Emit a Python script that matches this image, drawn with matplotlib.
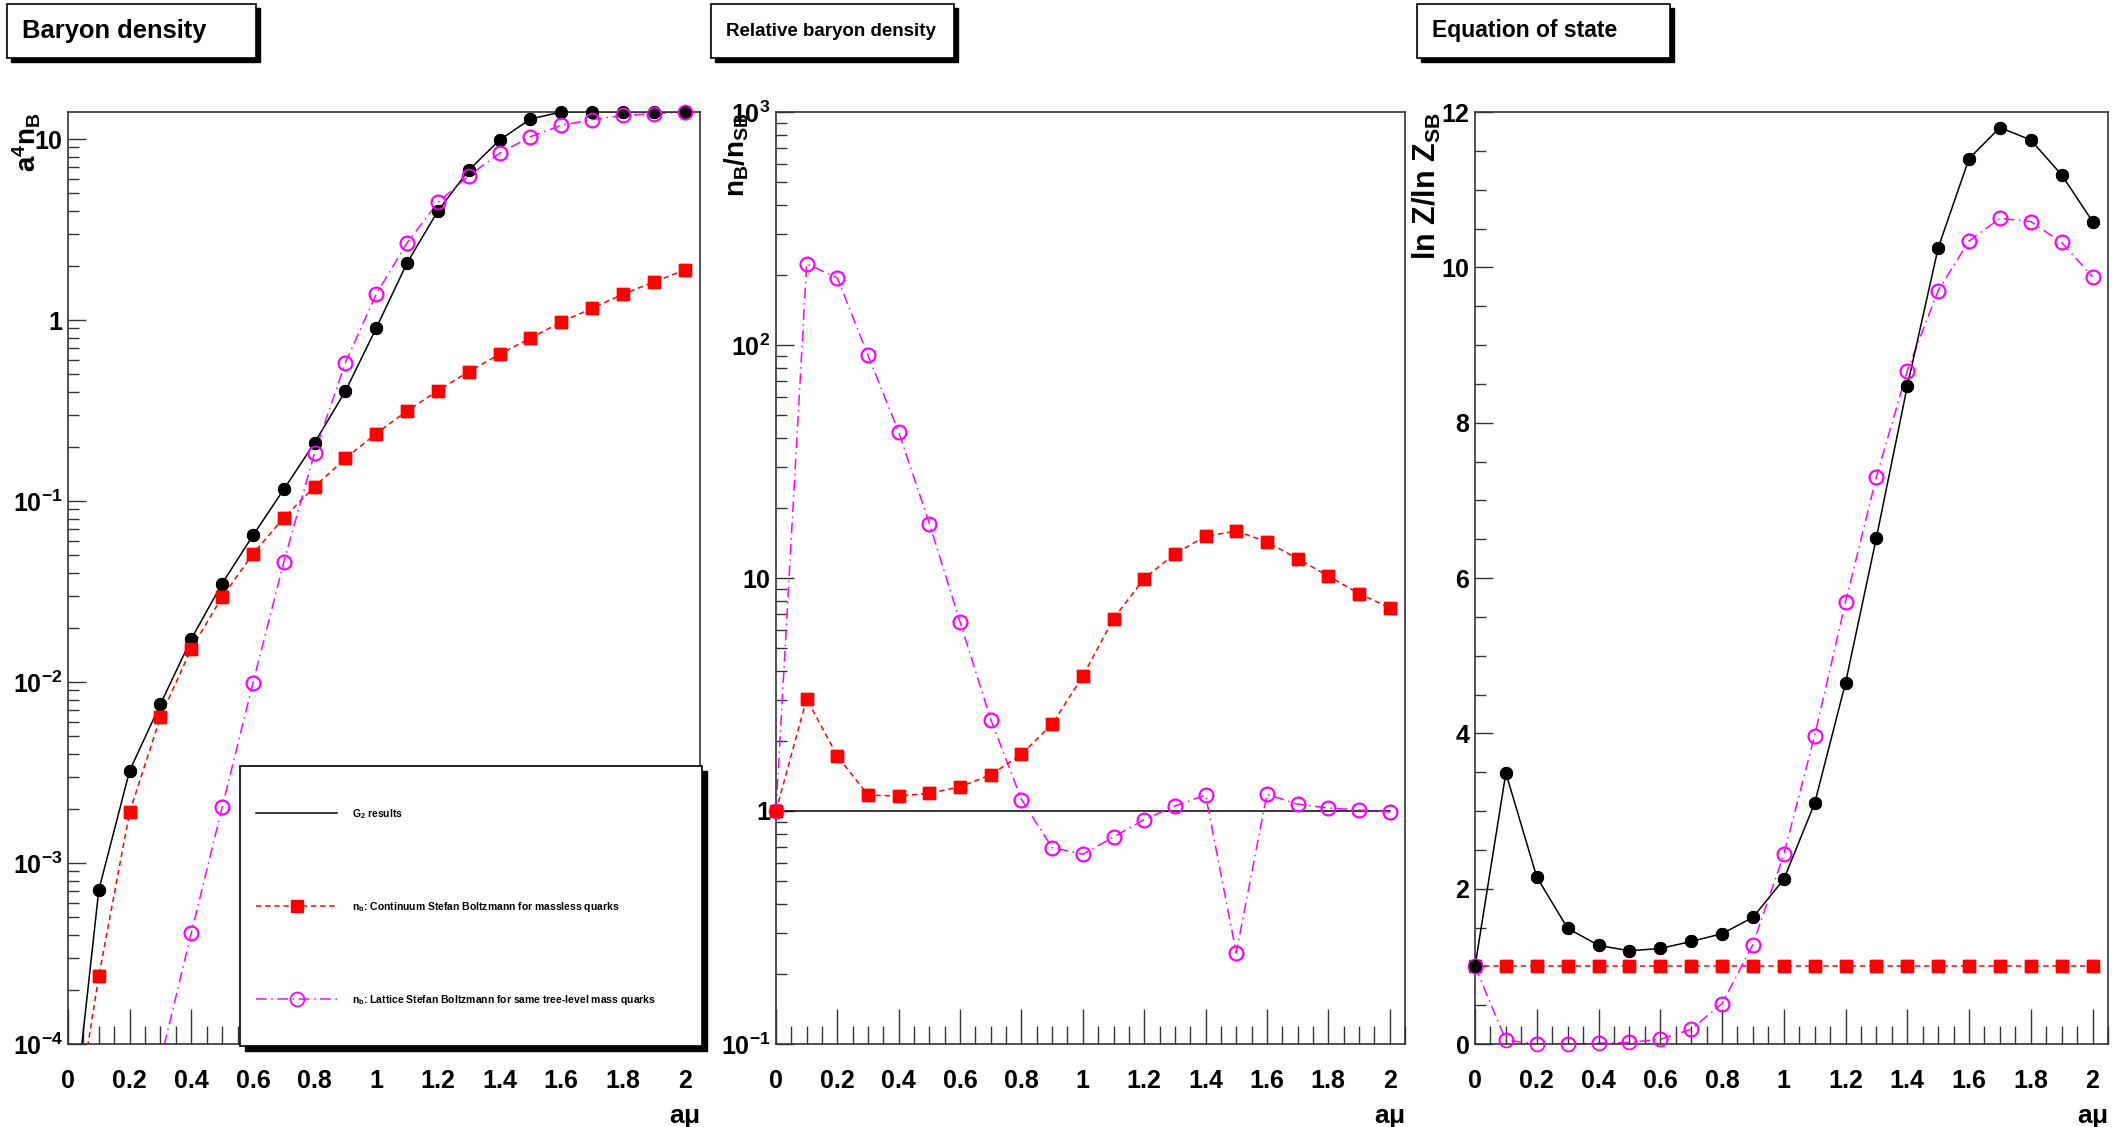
import matplotlib

matplotlib.use("Agg")
import matplotlib.pyplot as plt
import numpy as np
from matplotlib.patches import Rectangle
from matplotlib.ticker import FuncFormatter, LogLocator, MultipleLocator, NullFormatter

W, H = 2112, 1127

# a*mu grid
a_mu = [0.0, 0.1, 0.2, 0.3, 0.4, 0.5, 0.6, 0.7, 0.8, 0.9, 1.0,
        1.1, 1.2, 1.3, 1.4, 1.5, 1.6, 1.7, 1.8, 1.9, 2.0]

# panel 1: a^4 n_B
g2_nb = [2e-5, 7.1e-4, 3.24e-3, 7.55e-3, 0.0173, 0.0350, 0.0646, 0.116, 0.210, 0.405, 0.904,
         2.07, 4.01, 6.73, 9.87, 12.9, 14.1, 14.1, 14.1, 14.1, 14.1]
cont_nb = [2e-5, 2.37e-4, 1.91e-3, 6.41e-3, 0.0153, 0.0295, 0.0510, 0.0809, 0.120, 0.172, 0.236,
           0.315, 0.407, 0.519, 0.647, 0.794, 0.975, 1.16, 1.39, 1.62, 1.89]
latt_nb = [2e-5, 3.2e-6, 1.67e-5, 8.1e-5, 4.1e-4, 2.03e-3, 9.87e-3, 0.046, 0.185, 0.582, 1.39,
           2.67, 4.46, 6.27, 8.33, 10.3, 11.9, 12.8, 13.5, 13.8, 14.1]

# panel 2: n_B / n_SB
rel_g2 = [1.0, 1.0, 1.0, 1.0, 1.0, 1.0, 1.0, 1.0, 1.0, 1.0, 1.0,
          1.0, 1.0, 1.0, 1.0, 1.0, 1.0, 1.0, 1.0, 1.0, 1.0]
rel_cont = [1.0, 3.03, 1.72, 1.17, 1.16, 1.19, 1.27, 1.43, 1.75, 2.36, 3.79,
            6.69, 9.94, 12.7, 15.1, 15.9, 14.3, 12.1, 10.2, 8.57, 7.46]
rel_latt = [1.0, 223, 194, 90.2, 42.3, 17.1, 6.47, 2.47, 1.12, 0.697, 0.652,
            0.773, 0.919, 1.05, 1.17, 0.246, 1.18, 1.07, 1.03, 1.01, 0.99]

# panel 3: ln Z / ln Z_SB
eos_g2 = [1.0, 3.49, 2.15, 1.49, 1.27, 1.20, 1.23, 1.32, 1.42, 1.63, 2.12,
          3.10, 4.65, 6.52, 8.47, 10.25, 11.40, 11.80, 11.64, 11.19, 10.59]
eos_cont = [1.0, 1.0, 1.0, 1.0, 1.0, 1.0, 1.0, 1.0, 1.0, 1.0, 1.0,
            1.0, 1.0, 1.0, 1.0, 1.0, 1.0, 1.0, 1.0, 1.0, 1.0]
eos_latt = [1.0, 0.05, 0.0, 0.0, 0.01, 0.02, 0.06, 0.19, 0.52, 1.28, 2.44,
            3.97, 5.69, 7.30, 8.67, 9.70, 10.34, 10.63, 10.59, 10.32, 9.88]

titles = ["Baryon density", "Relative baryon density", "Equation of state"]
title_sizes = [18.4, 13.5, 16.5]
title_boxes = [(7, 256), (711, 954), (1417, 1670)]
ylabels = [r"a$^{4}$n$_{B}$", r"n$_{B}$/n$_{SB}$", r"ln Z/ln Z$_{SB}$"]
legend_labels = [r"G$_{2}$ results",
                 r"n$_{b}$: Continuum Stefan Boltzmann for massless quarks",
                 r"n$_{b}$: Lattice Stefan Boltzmann for same tree-level mass quarks"]

plt.rcParams.update({
    "font.family": ["Liberation Sans", "DejaVu Sans"],
    "font.weight": "bold",
    "axes.labelweight": "bold",
    "mathtext.fontset": "custom",
    "mathtext.rm": "Liberation Sans:bold",
    "mathtext.bf": "Liberation Sans:bold",
    "mathtext.it": "Liberation Sans:bold",
    "mathtext.default": "bf",
})

FRAME = "#333333"
STY = {
    "g2": dict(color="black", ls="-", marker="o", ms=8.5, mfc="black", mec="black"),
    "cont": dict(color="#ff0000", ls=(0, (3.5, 2.5)), marker="s", ms=9, mfc="#ff0000", mec="#ff0000"),
    "latt": dict(color="#ff00ff", ls=(0, (7, 3, 1, 3)), marker="o", ms=10, mfc="none",
                 mec="#ff00ff", mew=1.3),
}


def px_axes(fig, left, right, top=112, bottom=1044):
    return fig.add_axes([left / W, 1 - bottom / H, (right - left) / W, (bottom - top) / H])


def log_fmt(v, _):
    e = int(round(np.log10(v)))
    if e == 0:
        return "1"
    if e == 1:
        return "10"
    return rf"$10^{{{e}}}$"


def style(ax, ylab, lab_x, lab_fs):
    ax.set_xlim(0, 2.05)
    ax.xaxis.set_major_locator(MultipleLocator(0.2))
    ax.xaxis.set_minor_locator(MultipleLocator(0.05))
    ax.xaxis.set_major_formatter(FuncFormatter(lambda v, _: f"{v:g}"))
    ax.tick_params(axis="x", which="major", direction="in", length=25, width=1, pad=18,
                   labelsize=18, top=False, color=FRAME)
    ax.tick_params(axis="x", which="minor", direction="in", length=13, width=1, top=False,
                   color=FRAME)
    ax.tick_params(axis="y", which="major", direction="in", length=13, width=1, pad=4,
                   labelsize=18, right=False, color=FRAME)
    ax.tick_params(axis="y", which="minor", direction="in", length=8, width=1, right=False,
                   color=FRAME)
    for s in ax.spines.values():
        s.set_color(FRAME)
        s.set_linewidth(1.2)
    ax.set_xlabel(r"a$\mu$", fontsize=19, loc="right")
    ax.xaxis.set_label_coords(1.0, -0.066)
    ax.set_ylabel(ylab, fontsize=lab_fs, loc="top")
    ax.yaxis.set_label_coords(lab_x, 1.0)


def draw(ax, y, key, lo, markers=True):
    kw = dict(STY[key])
    if not markers:
        kw.update(marker="none")
    line, = ax.plot(a_mu, y, lw=1.1, zorder=2, **kw)
    if markers:
        kw.update(ls="none")
        ax.plot(a_mu, np.ma.masked_less(np.array(y, float), lo), clip_on=False, zorder=3, **kw)
    return line


fig = plt.figure(figsize=(W / 100, H / 100), dpi=100)
fig.patch.set_facecolor("white")

# panel 1
ax1 = px_axes(fig, 68, 700)
ax1.set_yscale("log")
ax1.set_ylim(1e-4, 14.1)
draw(ax1, g2_nb, "g2", 1e-4)
h_cont = draw(ax1, cont_nb, "cont", 1e-4)
h_latt = draw(ax1, latt_nb, "latt", 1e-4)

# panel 2
ax2 = px_axes(fig, 776, 1405)
ax2.set_yscale("log")
ax2.set_ylim(0.1, 1000)
h_g2 = draw(ax2, rel_g2, "g2", 0.1, markers=False)
draw(ax2, rel_latt, "latt", 0.1)
draw(ax2, rel_cont, "cont", 0.1)

# panel 3
ax3 = px_axes(fig, 1475, 2108)
ax3.set_ylim(0, 12)
draw(ax3, eos_cont, "cont", 0)
draw(ax3, eos_latt, "latt", 0)
draw(ax3, eos_g2, "g2", 0)

for ax in (ax1, ax2):
    ax.yaxis.set_major_locator(LogLocator(base=10, numticks=20))
    ax.yaxis.set_minor_locator(LogLocator(base=10, subs=np.arange(2, 10), numticks=20))
    ax.yaxis.set_major_formatter(FuncFormatter(log_fmt))
    ax.yaxis.set_minor_formatter(NullFormatter())
ax3.yaxis.set_major_locator(MultipleLocator(2))
ax3.yaxis.set_minor_locator(MultipleLocator(0.5))
ax3.yaxis.set_major_formatter(FuncFormatter(lambda v, _: f"{v:g}"))

style(ax1, ylabels[0], -0.040, 20)
style(ax2, ylabels[1], -0.040, 20)
style(ax3, ylabels[2], -0.050, 22)

# title boxes with shadow
for (x0, x1), txt, fs in zip(title_boxes, titles, title_sizes):
    fig.add_artist(Rectangle(((x0 + 4) / W, 1 - 62 / H), (x1 - x0) / W, 54 / H,
                             transform=fig.transFigure, fc="black", ec="black", zorder=3))
    fig.add_artist(Rectangle((x0 / W, 1 - 58 / H), (x1 - x0) / W, 54 / H,
                             transform=fig.transFigure, fc="white", ec="black", lw=1.2, zorder=4))
    fig.text((x0 + 15) / W, 1 - 31 / H, txt, fontsize=fs, fontweight="bold",
             ha="left", va="center", zorder=5)

# legend box with shadow
fig.add_artist(Rectangle((245 / W, 1 - 1051 / H), 462 / W, 280 / H,
                         transform=fig.transFigure, fc="black", ec="black", zorder=3))
fig.add_artist(Rectangle((240 / W, 1 - 1046 / H), 462 / W, 280 / H,
                         transform=fig.transFigure, fc="white", ec="black", lw=1.2, zorder=4))
leg = fig.legend([h_g2, h_cont, h_latt], legend_labels, loc="upper left",
                 bbox_to_anchor=(256 / W, 1 - 807 / H), bbox_transform=fig.transFigure,
                 frameon=False, fontsize=7.5, handlelength=7.8, handletextpad=1.4,
                 labelspacing=7.6, borderpad=0, borderaxespad=0, numpoints=1)
leg.set_zorder(6)

fig.savefig("out.png", dpi=100)
